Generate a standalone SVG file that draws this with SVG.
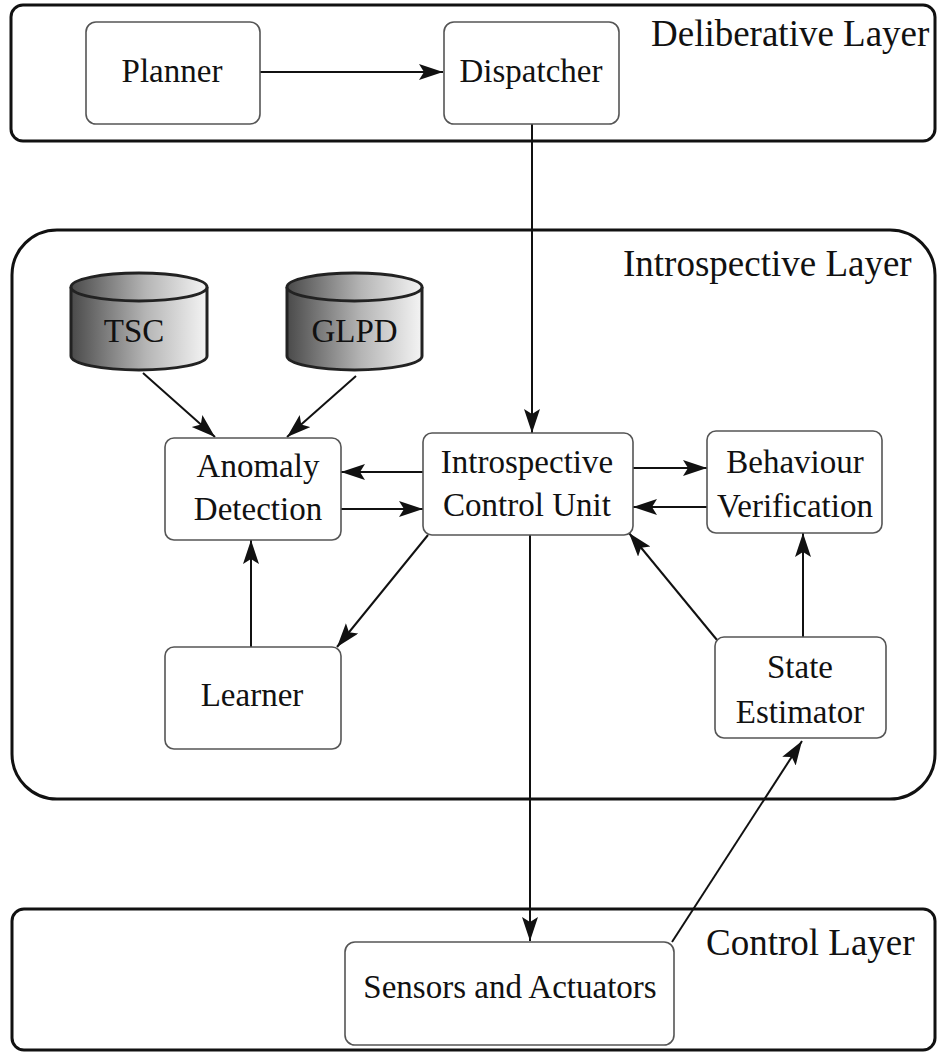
<svg xmlns="http://www.w3.org/2000/svg" width="937" height="1053" viewBox="0 0 937 1053">
  <style>
    .layer { fill: none; stroke: #111; stroke-width: 3; }
    .node rect { fill: #fff; stroke: #555; stroke-width: 1.6; }
    text { font-family: 'Liberation Serif', 'Times New Roman', serif; fill: #111; }
    .lbl { font-size: 33px; text-anchor: middle; }
    .layer-lbl { font-size: 37px; }
    .db { fill: url(#dbShade); stroke: #222; stroke-width: 3; }
    .edge { fill: none; stroke: #111; stroke-width: 2; marker-end: url(#arrow); }
  </style>
  <defs>
    <linearGradient id="dbShade" x1="0" y1="0" x2="1" y2="0">
      <stop offset="0" stop-color="#4a4a4a"/>
      <stop offset="0.55" stop-color="#b5b5b5"/>
      <stop offset="1" stop-color="#f4f4f4"/>
    </linearGradient>
    <marker id="arrow" markerUnits="userSpaceOnUse" markerWidth="26" markerHeight="18" refX="24" refY="8" orient="auto">
      <path d="M0,0 L24,8 L0,16 L5,8 z" fill="#111"/>
    </marker>
  </defs>

  <rect width="937" height="1053" fill="#fff"/>

  <!-- layers -->
  <g id="deliberative-layer">
    <rect class="layer" x="11" y="5" width="924" height="136" rx="12"/>
    <text class="layer-lbl" x="651" y="46">Deliberative Layer</text>
  </g>
  <g id="introspective-layer">
    <rect class="layer" x="12" y="230" width="923" height="569" rx="45"/>
    <text class="layer-lbl" x="623" y="276">Introspective Layer</text>
  </g>
  <g id="control-layer">
    <rect class="layer" x="12" y="909" width="923" height="141" rx="12"/>
    <text class="layer-lbl" x="706" y="955">Control Layer</text>
  </g>

  <!-- connectors -->
  <g id="connectors">
    <path class="edge" d="M260,72 L443,72"/>
    <path class="edge" d="M532,124 L532,433"/>
    <path class="edge" d="M143,373 L215,437"/>
    <path class="edge" d="M356,376 L287,437"/>
    <path class="edge" d="M423,472 L341,472"/>
    <path class="edge" d="M341,509 L423,509"/>
    <path class="edge" d="M633,468 L707,468"/>
    <path class="edge" d="M707,507 L633,507"/>
    <path class="edge" d="M428,535 L337,647"/>
    <path class="edge" d="M251,647 L251,540"/>
    <path class="edge" d="M803,637 L803,533"/>
    <path class="edge" d="M717,640 L629,533"/>
    <path class="edge" d="M530,535 L530,941"/>
    <path class="edge" d="M672,942 L802,741"/>
  </g>

  <!-- nodes -->
  <g id="planner" class="node">
    <rect x="86" y="22" width="174" height="102" rx="10"/>
    <text class="lbl" x="172" y="82">Planner</text>
  </g>
  <g id="dispatcher" class="node">
    <rect x="444" y="22" width="175" height="102" rx="10"/>
    <text class="lbl" x="531" y="82">Dispatcher</text>
  </g>

  <g id="tsc">
    <path class="db" d="M71,287 L71,356 A68,14 0 0 0 207,356 L207,287"/>
    <ellipse class="db" cx="139" cy="287" rx="68" ry="14"/>
    <text class="lbl" x="134" y="342">TSC</text>
  </g>
  <g id="glpd">
    <path class="db" d="M287,287 L287,356 A67.5,14 0 0 0 422,356 L422,287"/>
    <ellipse class="db" cx="354.5" cy="287" rx="67.5" ry="14"/>
    <text class="lbl" x="354.5" y="342">GLPD</text>
  </g>

  <g id="anomaly-detection" class="node">
    <rect x="165" y="438" width="176" height="102" rx="9"/>
    <text class="lbl" x="258" y="477">Anomaly</text>
    <text class="lbl" x="258" y="520">Detection</text>
  </g>
  <g id="introspective-control-unit" class="node">
    <rect x="423" y="433" width="210" height="102" rx="9"/>
    <text class="lbl" x="527" y="473">Introspective</text>
    <text class="lbl" x="527" y="516">Control Unit</text>
  </g>
  <g id="behaviour-verification" class="node">
    <rect x="707" y="431" width="175" height="102" rx="9"/>
    <text class="lbl" x="795" y="473">Behaviour</text>
    <text class="lbl" x="795" y="517">Verification</text>
  </g>
  <g id="learner" class="node">
    <rect x="165" y="647" width="176" height="102" rx="9"/>
    <text class="lbl" x="252" y="706">Learner</text>
  </g>
  <g id="state-estimator" class="node">
    <rect x="715" y="637" width="171" height="101" rx="9"/>
    <text class="lbl" x="800" y="678">State</text>
    <text class="lbl" x="800" y="723">Estimator</text>
  </g>
  <g id="sensors-and-actuators" class="node">
    <rect x="345" y="942" width="329" height="103" rx="10"/>
    <text class="lbl" x="510" y="998">Sensors and Actuators</text>
  </g>
</svg>
